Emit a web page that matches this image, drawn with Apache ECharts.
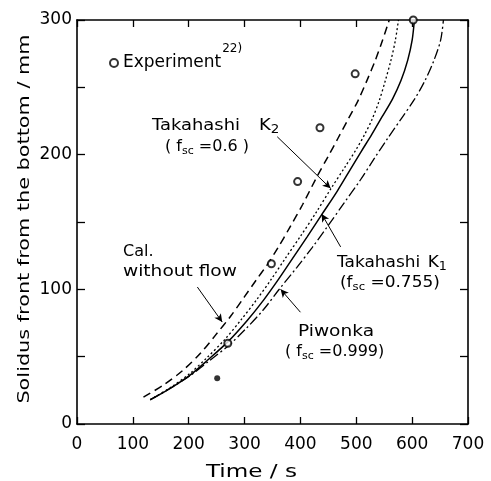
<!DOCTYPE html>
<html><head><meta charset="utf-8">
<script src="https://cdn.jsdelivr.net/npm/echarts@6/dist/echarts.min.js"></script>
<style>html,body{margin:0;padding:0;background:#fff}#c{width:491px;height:481px}</style>
</head><body><div id="c"></div>
<script>
// ---- data ----
const expTime   = [270, 348, 395, 435, 498, 602];
const expHeight = [60, 119, 180, 220, 260, 300];
const dotTime   = [251];
const dotHeight = [34];

const calTime   = [119,155,190,221,248,275,299,321,340,360,381,404,430,450,467,485,503,519,534,547,559];
const calHeight = [20,29,40,52.5,66,80,94,107,118,131,146,163,184,199,212,226,240,255,270,285,300];

const k2Time    = [131,167,202,232,264,294,322,347,373,401,428,455,480,500,515,528,541,552,562,570,575.5];
const k2Height  = [18,27,37.5,49,62.5,77.5,92.5,107,123,140,157,175,191,204,215,226,240,255,270,285,300];

const k1Time    = [131,167,203,234,270,304,334,360,386,412,439,466,490,509,527,546,565,580,592,600,604];
const k1Height  = [18,26.5,36.5,47.5,61,76.5,92,107,123,139,156,173,189.5,202.5,214.5,228,241.5,255,270,285,300];

const piTime    = [131,167,203,237,272,303,334,361,393,421,449,478,507,532,556,581,604,623,639,651,656];
const piHeight  = [18,26.5,36,47,58.5,71,85,99.5,116,131,147,164,181,197,212,227,241,255,270,285,300];

const xTickValues = [0,100,200,300,400,500,600,700];
const yTickValues = [0,100,200,300];

// ---- chart ----
const FONT = 'DejaVu Sans';
const pairs = (xs, ys) => xs.map((x, i) => [x, ys[i]]);
const chart = echarts.init(document.getElementById('c'), null, {renderer: 'canvas'});

const axisLine = {show: true, onZero: false, lineStyle: {color: '#000', width: 1.6}};
const tickIn = len => ({show: true, inside: true, length: len, lineStyle: {color: '#000', width: 1.3}});

function txt(x, y, text, scaleX, extra) {
  return Object.assign({
    type: 'text', x: x, y: y, scaleX: scaleX, silent: true,
    style: {
      text: text, fill: '#000', fontFamily: FONT, fontSize: 16,
      textAlign: 'left', verticalAlign: 'middle',
      rich: {
        n:   {fontFamily: FONT, fontSize: 16, lineHeight: 20, verticalAlign: 'middle', fill: '#000'},
        k:   {fontFamily: FONT, fontSize: 16, lineHeight: 20, verticalAlign: 'middle', fill: '#000', padding: [0, 0, 0, 17]},
        k1:  {fontFamily: FONT, fontSize: 16, lineHeight: 20, verticalAlign: 'middle', fill: '#000', padding: [0, 0, 0, 7]},
        sub: {fontFamily: FONT, fontSize: 11, lineHeight: 11, verticalAlign: 'bottom', fill: '#000'},
        sub2:{fontFamily: FONT, fontSize: 12, lineHeight: 14, verticalAlign: 'bottom', fill: '#000'}
      }
    }
  }, extra || {});
}

const arrowLines = [
  [[215.5, 101.7], [260, 75.7]],
  [[358.5, 213.3], [454, 175]],
  [[472, 131.5], [438, 156]],
  [[400, 83], [364.5, 100]]
].map(([a, b]) => [{coord: a, symbol: 'none'}, {coord: b, symbol: 'arrow'}]);

chart.setOption({
  animation: false,
  backgroundColor: '#fff',
  grid: {left: 77, right: 23, top: 20, bottom: 57, containLabel: false},
  xAxis: [{
    type: 'value', min: 0, max: 700, interval: 100, position: 'bottom',
    axisLine: axisLine, axisTick: tickIn(7), splitLine: {show: false},
    axisLabel: {color: '#000', fontFamily: FONT, fontSize: 17, margin: 12,
      formatter: v => xTickValues.indexOf(v) >= 0 ? String(v) : ''}
  }, {
    type: 'value', min: 0, max: 700, interval: 100, position: 'top',
    axisLine: axisLine, axisTick: tickIn(7), splitLine: {show: false}, axisLabel: {show: false}
  }],
  yAxis: [{
    type: 'value', min: 0, max: 300, interval: 50, position: 'left',
    axisLine: axisLine, axisTick: tickIn(8), splitLine: {show: false},
    axisLabel: {color: '#000', fontFamily: FONT, fontSize: 17, margin: 5,
      formatter: v => yTickValues.indexOf(v) >= 0 ? String(v) : ''}
  }, {
    type: 'value', min: 0, max: 300, interval: 50, position: 'right',
    axisLine: axisLine, axisTick: tickIn(8), splitLine: {show: false}, axisLabel: {show: false}
  }],
  legend: {
    data: ['Experiment'], left: 104, top: 38, selectedMode: false,
    itemWidth: 8, itemHeight: 8, itemGap: 4,
    formatter: () => '{a|Experiment}{sup|22)}',
    textStyle: {color: '#000', fontFamily: FONT, fontSize: 17,
      rich: {
        a:   {fontFamily: FONT, fontSize: 17, lineHeight: 40, verticalAlign: 'middle', color: '#000'},
        sup: {fontFamily: FONT, fontSize: 12, lineHeight: 13, verticalAlign: 'top', color: '#000', padding: [0, 0, 0, 1]}
      }}
  },
  series: [
    {name: 'Cal. without flow', type: 'line', data: pairs(calTime, calHeight), smooth: 0.3,
     showSymbol: false, lineStyle: {color: '#000', width: 1.5, type: [8, 5]}},
    {name: 'Takahashi K2', type: 'line', data: pairs(k2Time, k2Height), smooth: 0.3,
     showSymbol: false, lineStyle: {color: '#000', width: 1.3, type: [2, 2.5]}},
    {name: 'Takahashi K1', type: 'line', data: pairs(k1Time, k1Height), smooth: 0.3,
     showSymbol: false, lineStyle: {color: '#000', width: 1.5, type: 'solid'}},
    {name: 'Piwonka', type: 'line', data: pairs(piTime, piHeight), smooth: 0.3,
     showSymbol: false, lineStyle: {color: '#000', width: 1.3, type: [10, 3, 2, 3]}},
    {name: 'Experiment', type: 'scatter', data: pairs(expTime, expHeight),
     symbol: 'emptyCircle', symbolSize: 7, itemStyle: {color: '#000', borderWidth: 1.3}, z: 5},
    {name: 'dot', type: 'scatter', data: pairs(dotTime, dotHeight),
     symbol: 'circle', symbolSize: 6, itemStyle: {color: '#000'}, z: 5,
     markLine: {silent: true, symbolSize: [6, 8], label: {show: false},
       lineStyle: {color: '#000', width: 1, type: 'solid'}, data: arrowLines}}
  ],
  graphic: [
    txt(152, 126, '{n|Takahashi}{k|K}{sub2|2}', 1.12),
    txt(165, 147, '{n|( f}{sub|sc}{n| =0.6 )}', 1.0),
    txt(123, 252, '{n|Cal.}', 1.0),
    txt(123, 272, '{n|without flow}', 1.16),
    txt(337, 263, '{n|Takahashi}{k1|K}{sub2|1}', 1.06),
    txt(340, 283, '{n|(f}{sub|sc}{n| =0.755)}', 1.06),
    txt(298, 332, '{n|Piwonka}', 1.16),
    txt(285, 352, '{n|( f}{sub|sc}{n| =0.999)}', 1.0),
    {type: 'text', x: 251.5, y: 473, scaleX: 1.36, silent: true,
     style: {text: 'Time / s', fill: '#000', fontFamily: FONT, fontSize: 17, textAlign: 'center', verticalAlign: 'middle'}},
    {type: 'text', x: 25, y: 219, rotation: Math.PI / 2, scaleX: 1.3, silent: true,
     style: {text: 'Solidus front from the bottom / mm', fill: '#000', fontFamily: FONT, fontSize: 16, textAlign: 'center', verticalAlign: 'middle'}}
  ]
});
</script>
</body></html>
